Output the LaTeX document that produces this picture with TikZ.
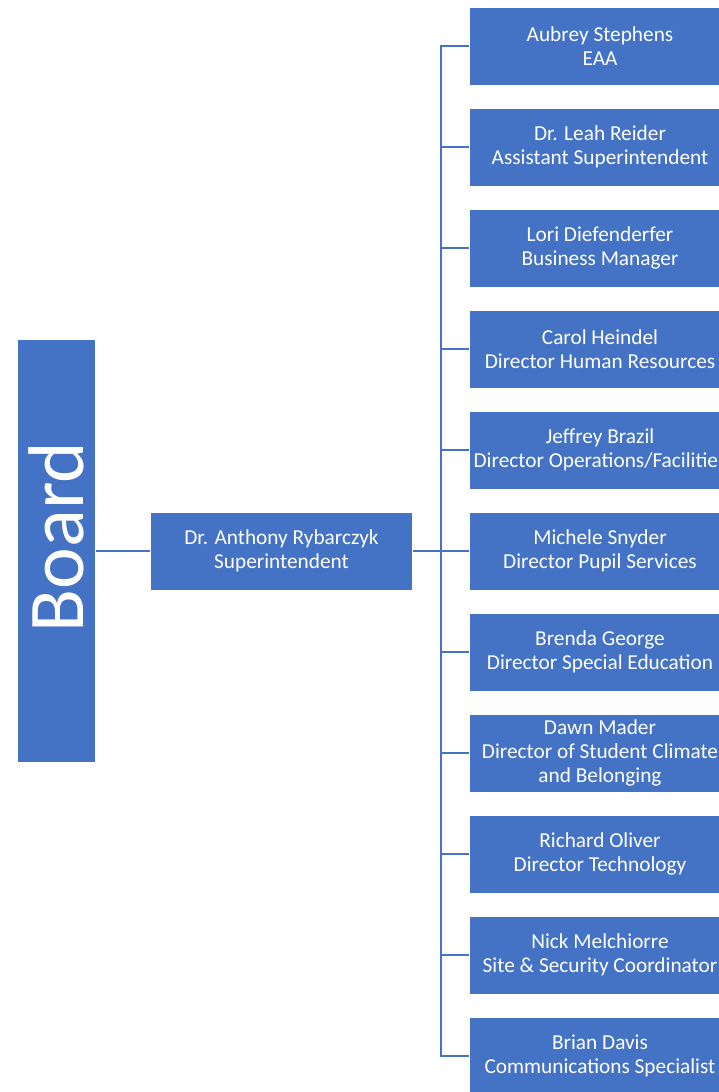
\documentclass[tikz,border=0pt]{standalone}
\usepackage{fontspec}
\setmainfont{Carlito}
\usetikzlibrary{positioning}
\definecolor{officeblue}{HTML}{4472C4}
\tikzset{
	staffbox/.style={rectangle, fill=officeblue, draw=white, line width=1pt, text=white,
		minimum width=262pt, minimum height=78pt, align=center, inner sep=0pt,
		font=\fontsize{21.3pt}{23.8pt}\selectfont},
	link/.style={draw=officeblue, line width=2.2pt}
}

\begin{document}
\begin{tikzpicture}[x=1pt, y=-1pt]
		%%%%% START %%%%%
		\useasboundingbox (0, 0) rectangle (719, 1092);
		\clip (0, 0) rectangle (719, 1092);
		
		\node[staffbox, minimum width=78pt, minimum height=423pt] (board) at (56, 551)
			{\rotatebox{90}{\fontsize{79pt}{84pt}\selectfont\hspace*{28pt}Board}};
		\node[staffbox] (super) at (281.5, 551) {Dr. Anthony Rybarczyk\\Superintendent};
		
		\node[staffbox] (eaa) at (600, 46) {Aubrey Stephens\\EAA};
		\node[staffbox] (asst) at (600, 147) {Dr. Leah Reider\\Assistant Superintendent};
		\node[staffbox] (bus) at (600, 248) {Lori Diefenderfer\\Business Manager};
		\node[staffbox] (hr) at (600, 349) {Carol Heindel\\Director Human Resources};
		\node[staffbox] (ops) at (600, 450) {Jeffrey Brazil\\Director Operations/Facilities};
		\node[staffbox] (pupil) at (600, 551) {Michele Snyder\\Director Pupil Services};
		\node[staffbox] (sped) at (600, 652) {Brenda George\\Director Special Education};
		\node[staffbox] (climate) at (600, 753) {Dawn Mader\\Director of Student Climate\\and Belonging};
		\node[staffbox] (tech) at (600, 854) {Richard Oliver\\Director Technology};
		\node[staffbox] (site) at (600, 955) {Nick Melchiorre\\Site \& Security Coordinator};
		\node[staffbox] (comm) at (600, 1056) {Brian Davis\\Communications Specialist};
		
		\coordinate (spine) at (441, 551);
		
		\draw[link] (board) -- (super);
		\draw[link] (super) -- (pupil);
		\draw[link] (eaa.west) -- (eaa.west -| spine) -- (comm.west -| spine) -- (comm.west);
		
		\draw[link] (asst.west) -- (asst.west -| spine);
		\draw[link] (bus.west) -- (bus.west -| spine);
		\draw[link] (hr.west) -- (hr.west -| spine);
		\draw[link] (ops.west) -- (ops.west -| spine);
		\draw[link] (sped.west) -- (sped.west -| spine);
		\draw[link] (climate.west) -- (climate.west -| spine);
		\draw[link] (tech.west) -- (tech.west -| spine);
		\draw[link] (site.west) -- (site.west -| spine);
		
		%%%%% END %%%%%
	\end{tikzpicture}
\end{document}
